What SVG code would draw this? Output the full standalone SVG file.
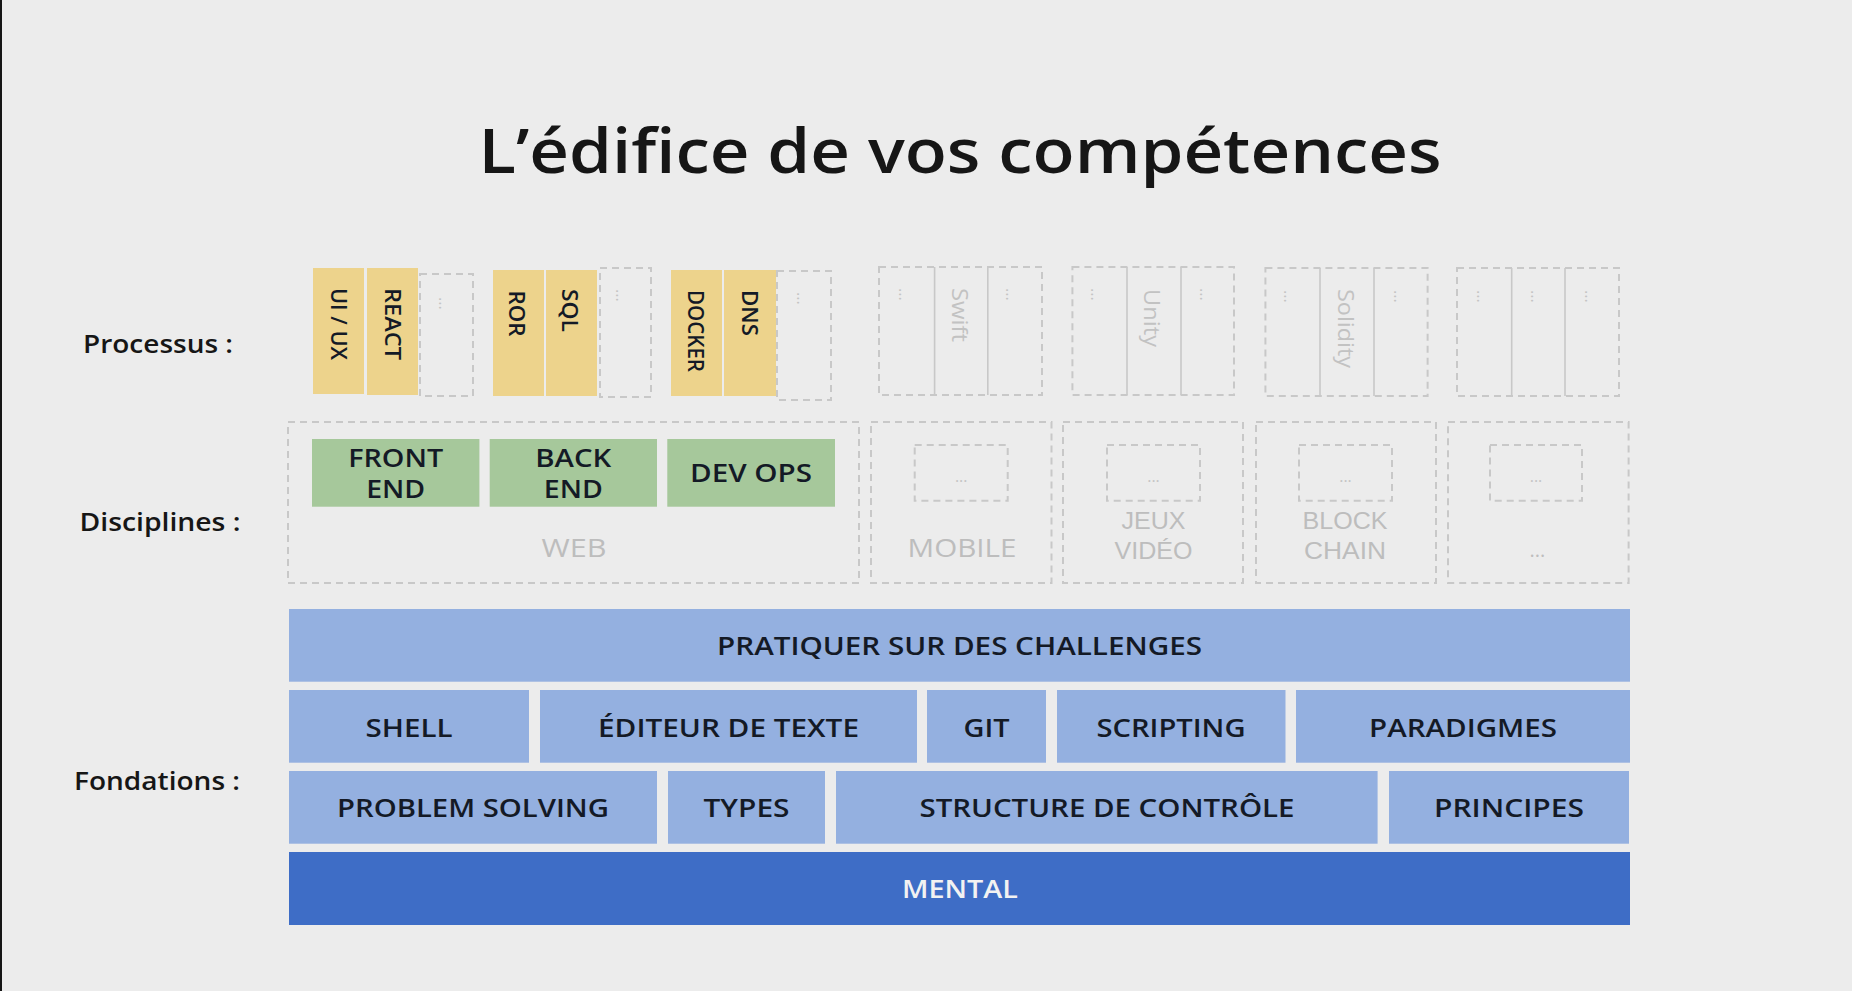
<svg xmlns="http://www.w3.org/2000/svg" width="1852" height="991" viewBox="0 0 1852 991">
<style>
.t{font-family:"Open Sans","Liberation Sans",sans-serif;font-weight:600;fill:#141a26}
.k{fill:#161616}
.lbl{font-size:25px;text-anchor:middle}
.rot{font-size:22px}
.g{font-family:"Open Sans","Liberation Sans",sans-serif;fill:#bdbdbd;font-weight:500}
.gb{font-size:25px;text-anchor:middle}
.g2{font-family:"Liberation Sans","Open Sans",sans-serif;font-size:24px;text-anchor:middle;fill:#bdbdbd}
.gr{font-size:21px;font-weight:400;fill:#c2c2c2}
.dots{font-family:"Open Sans","Liberation Sans",sans-serif;font-size:16px;fill:#c4c4c4}
.dash{fill:none;stroke:#c8c8c8;stroke-width:2;stroke-dasharray:7 5}
.div{stroke:#c8c8c8;stroke-width:1.6}
.y{fill:#edd38c}
.gn{fill:#a6c89b}
.lb{fill:#94b0e0}
.db{fill:#3e6dc6}
</style>
<rect x="0" y="0" width="1852" height="991" fill="#ececec"/>
<rect x="0" y="0" width="2" height="991" fill="#151515"/>

<g id="title">
<text x="960" y="173" class="t k" style="font-size:62px" text-anchor="middle" textLength="963" lengthAdjust="spacingAndGlyphs">L’édifice de vos compétences</text>
</g>

<g id="row-labels">
<text x="158" y="353" class="t k lbl" textLength="150" lengthAdjust="spacingAndGlyphs">Processus :</text>
<text x="160" y="531" class="t k lbl" textLength="161" lengthAdjust="spacingAndGlyphs">Disciplines :</text>
<text x="157" y="790" class="t k lbl" textLength="166" lengthAdjust="spacingAndGlyphs">Fondations :</text>
</g>

<g id="processus">
<g id="p-uiux"><rect x="313" y="268" width="51" height="126" class="y"/>
<text transform="translate(331,288) rotate(90)" class="t rot" textLength="72" lengthAdjust="spacingAndGlyphs">UI / UX</text></g>
<g id="p-react"><rect x="367" y="268" width="51" height="127" class="y"/>
<text transform="translate(384.5,288) rotate(90)" class="t rot" textLength="72" lengthAdjust="spacingAndGlyphs">REACT</text></g>
<g id="p-web-more"><rect x="420" y="274" width="53" height="122" class="dash"/>
<text transform="translate(438.5,297) rotate(90)" class="dots">...</text></g>

<g id="p-ror"><rect x="493" y="270" width="51" height="126" class="y"/>
<text transform="translate(509,290.5) rotate(90)" class="t rot" textLength="46" lengthAdjust="spacingAndGlyphs">ROR</text></g>
<g id="p-sql"><rect x="546" y="270" width="51" height="126" class="y"/>
<text transform="translate(562,289) rotate(90)" class="t rot" textLength="43" lengthAdjust="spacingAndGlyphs">SQL</text></g>
<g id="p-back-more"><rect x="600" y="268" width="51" height="129" class="dash"/>
<text transform="translate(616,289) rotate(90)" class="dots">...</text></g>

<g id="p-docker"><rect x="671" y="270" width="51" height="126" class="y"/>
<text transform="translate(688,290) rotate(90)" class="t rot" textLength="82" lengthAdjust="spacingAndGlyphs">DOCKER</text></g>
<g id="p-dns"><rect x="724" y="270" width="52" height="126" class="y"/>
<text transform="translate(741.5,290) rotate(90)" class="t rot" textLength="46" lengthAdjust="spacingAndGlyphs">DNS</text></g>
<g id="p-devops-more"><rect x="777" y="271" width="54" height="129" class="dash"/>
<text transform="translate(797,292) rotate(90)" class="dots">...</text></g>

<g id="p-mobile">
<rect x="879" y="267" width="163" height="128" class="dash"/>
<line x1="934.6" y1="267" x2="934.6" y2="395" class="div"/>
<line x1="987.8" y1="267" x2="987.8" y2="395" class="div"/>
<text transform="translate(898.5,288) rotate(90)" class="dots">...</text>
<text transform="translate(952,288) rotate(90)" class="g gr" textLength="54" lengthAdjust="spacingAndGlyphs">Swift</text>
<text transform="translate(1006,288) rotate(90)" class="dots">...</text>
</g>
<g id="p-jeux">
<rect x="1072.4" y="267" width="161.6" height="128" class="dash"/>
<line x1="1127" y1="267" x2="1127" y2="395" class="div"/>
<line x1="1181" y1="267" x2="1181" y2="395" class="div"/>
<text transform="translate(1090.5,288) rotate(90)" class="dots">...</text>
<text transform="translate(1143.5,289) rotate(90)" class="g gr" textLength="58" lengthAdjust="spacingAndGlyphs">Unity</text>
<text transform="translate(1199.5,288) rotate(90)" class="dots">...</text>
</g>
<g id="p-block">
<rect x="1265.4" y="268" width="162.2" height="128" class="dash"/>
<line x1="1320" y1="268" x2="1320" y2="396" class="div"/>
<line x1="1374" y1="268" x2="1374" y2="396" class="div"/>
<text transform="translate(1283.5,290) rotate(90)" class="dots">...</text>
<text transform="translate(1337.5,289) rotate(90)" class="g gr" textLength="79" lengthAdjust="spacingAndGlyphs">Solidity</text>
<text transform="translate(1393.5,290) rotate(90)" class="dots">...</text>
</g>
<g id="p-other">
<rect x="1457" y="268" width="162" height="128" class="dash"/>
<line x1="1511.7" y1="268" x2="1511.7" y2="396" class="div"/>
<line x1="1565" y1="268" x2="1565" y2="396" class="div"/>
<text transform="translate(1476.5,290) rotate(90)" class="dots">...</text>
<text transform="translate(1530.5,290) rotate(90)" class="dots">...</text>
<text transform="translate(1584.5,290) rotate(90)" class="dots">...</text>
</g>
</g>

<g id="disciplines">
<g id="d-web">
<rect x="288" y="422" width="571" height="161" class="dash"/>
<text x="574" y="556.5" class="g gb" textLength="65" lengthAdjust="spacingAndGlyphs">WEB</text>
</g>
<g id="d-front"><rect x="312" y="439" width="167.4" height="67.7" class="gn"/>
<text x="395.7" y="466.5" class="t lbl" textLength="95" lengthAdjust="spacingAndGlyphs">FRONT</text>
<text x="395.7" y="498" class="t lbl" textLength="59" lengthAdjust="spacingAndGlyphs">END</text></g>
<g id="d-back"><rect x="489.7" y="439" width="167.3" height="67.7" class="gn"/>
<text x="573.3" y="466.5" class="t lbl" textLength="76" lengthAdjust="spacingAndGlyphs">BACK</text>
<text x="573.3" y="498" class="t lbl" textLength="59" lengthAdjust="spacingAndGlyphs">END</text></g>
<g id="d-devops"><rect x="667.3" y="439" width="167.7" height="67.7" class="gn"/>
<text x="751" y="481.5" class="t lbl" textLength="122" lengthAdjust="spacingAndGlyphs">DEV OPS</text></g>

<g id="d-mobile">
<rect x="871" y="422" width="180.5" height="161" class="dash"/>
<rect x="914.7" y="445" width="93" height="55.7" class="dash"/>
<text x="961.2" y="482" class="dots" text-anchor="middle">...</text>
<text x="962" y="557" class="g gb" textLength="109" lengthAdjust="spacingAndGlyphs">MOBILE</text>
</g>
<g id="d-jeux">
<rect x="1063" y="422" width="180" height="161" class="dash"/>
<rect x="1107" y="445" width="93" height="55.7" class="dash"/>
<text x="1153.5" y="482" class="dots" text-anchor="middle">...</text>
<text x="1153.5" y="529" class="g2" textLength="64" lengthAdjust="spacingAndGlyphs">JEUX</text>
<text x="1153.5" y="558.5" class="g2" textLength="78" lengthAdjust="spacingAndGlyphs">VIDÉO</text>
</g>
<g id="d-block">
<rect x="1256" y="422" width="180" height="161" class="dash"/>
<rect x="1299" y="445" width="93" height="55.7" class="dash"/>
<text x="1345.5" y="482" class="dots" text-anchor="middle">...</text>
<text x="1345" y="529" class="g2" textLength="85" lengthAdjust="spacingAndGlyphs">BLOCK</text>
<text x="1345" y="558.5" class="g2" textLength="82" lengthAdjust="spacingAndGlyphs">CHAIN</text>
</g>
<g id="d-other">
<rect x="1448" y="422" width="180.6" height="161" class="dash"/>
<rect x="1490" y="445" width="92" height="55.7" class="dash"/>
<text x="1536" y="482" class="dots" text-anchor="middle">...</text>
<text x="1537.5" y="557" class="g" style="font-size:20px" text-anchor="middle">...</text>
</g>
</g>

<g id="fondations">
<g id="f-challenges"><rect x="289" y="609" width="1341" height="72.7" class="lb"/>
<text x="959.5" y="655" class="t lbl" textLength="485" lengthAdjust="spacingAndGlyphs">PRATIQUER SUR DES CHALLENGES</text></g>

<g id="f-shell"><rect x="289" y="690" width="240" height="72.7" class="lb"/>
<text x="409" y="736.5" class="t lbl" textLength="87" lengthAdjust="spacingAndGlyphs">SHELL</text></g>
<g id="f-editeur"><rect x="540" y="690" width="377" height="72.7" class="lb"/>
<text x="728.5" y="736.5" class="t lbl" textLength="261" lengthAdjust="spacingAndGlyphs">ÉDITEUR DE TEXTE</text></g>
<g id="f-git"><rect x="927" y="690" width="119" height="72.7" class="lb"/>
<text x="986.5" y="736.5" class="t lbl" textLength="46" lengthAdjust="spacingAndGlyphs">GIT</text></g>
<g id="f-scripting"><rect x="1057" y="690" width="228.5" height="72.7" class="lb"/>
<text x="1171" y="736.5" class="t lbl" textLength="149" lengthAdjust="spacingAndGlyphs">SCRIPTING</text></g>
<g id="f-paradigmes"><rect x="1296" y="690" width="334" height="72.7" class="lb"/>
<text x="1463" y="736.5" class="t lbl" textLength="188" lengthAdjust="spacingAndGlyphs">PARADIGMES</text></g>

<g id="f-problem"><rect x="289" y="771" width="368" height="72.7" class="lb"/>
<text x="473" y="817" class="t lbl" textLength="272" lengthAdjust="spacingAndGlyphs">PROBLEM SOLVING</text></g>
<g id="f-types"><rect x="668" y="771" width="157" height="72.7" class="lb"/>
<text x="746.5" y="817" class="t lbl" textLength="86" lengthAdjust="spacingAndGlyphs">TYPES</text></g>
<g id="f-structure"><rect x="836" y="771" width="541.6" height="72.7" class="lb"/>
<text x="1107" y="817" class="t lbl" textLength="375" lengthAdjust="spacingAndGlyphs">STRUCTURE DE CONTRÔLE</text></g>
<g id="f-principes"><rect x="1389" y="771" width="240" height="72.7" class="lb"/>
<text x="1509" y="817" class="t lbl" textLength="150" lengthAdjust="spacingAndGlyphs">PRINCIPES</text></g>

<g id="f-mental"><rect x="289" y="852" width="1341" height="73" class="db"/>
<text x="960" y="898" class="t lbl" style="fill:#f2f2f2" textLength="116" lengthAdjust="spacingAndGlyphs">MENTAL</text></g>
</g>

<g id="connectors"></g>
</svg>
